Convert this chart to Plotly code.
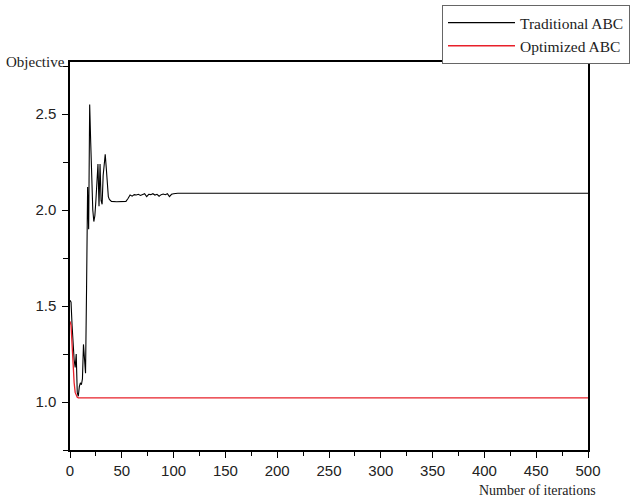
import plotly.graph_objects as go

# Traditional ABC (black) - iteration / objective value
trad_iter = [0, 1, 2, 3, 4, 5, 6, 7, 8, 9, 10, 11, 12, 13, 14, 15, 16, 17, 18, 19,
             20, 21, 22, 23, 24, 25, 26, 27, 28, 29, 30, 31, 32, 33, 34, 35, 36, 37, 38,
             40, 45, 50, 54, 56, 58, 60, 62, 64, 66, 68, 70, 72, 74, 76, 78, 80, 82, 84,
             86, 88, 90, 92, 94, 96, 98, 100, 104, 200, 300, 400, 500]
trad_vals = [1.53, 1.52, 1.40, 1.30, 1.22, 1.18, 1.25, 1.05, 1.03, 1.08, 1.10, 1.09, 1.12,
             1.30, 1.20, 1.15, 1.60, 2.12, 1.90, 2.55, 2.35, 2.15, 2.00, 1.94, 1.97, 2.05,
             2.15, 2.24, 2.02, 2.24, 2.05, 2.03, 2.18, 2.26, 2.29, 2.22, 2.12, 2.07, 2.055,
             2.045, 2.043, 2.045, 2.045, 2.06, 2.078, 2.072, 2.08, 2.078, 2.082, 2.076,
             2.08, 2.085, 2.07, 2.082, 2.08, 2.085, 2.078, 2.082, 2.072, 2.08, 2.083,
             2.08, 2.085, 2.07, 2.082, 2.085, 2.087, 2.087, 2.087, 2.087, 2.087]

# Optimized ABC (red)
opt_iter = [0, 1, 2, 3, 4, 5, 6, 7, 8, 100, 200, 300, 400, 500]
opt_vals = [1.42, 1.40, 1.30, 1.18, 1.10, 1.05, 1.03, 1.025, 1.022, 1.022, 1.022, 1.022, 1.022, 1.022]

x_ticks = [0, 50, 100, 150, 200, 250, 300, 350, 400, 450, 500]
y_ticks = [1.0, 1.5, 2.0, 2.5]
y_labels = ["1.0", "1.5", "2.0", "2.5"]

serif = "Liberation Serif, Times New Roman, serif"
sans = "Liberation Sans, Arial, sans-serif"

fig = go.Figure()
fig.add_trace(go.Scatter(x=trad_iter, y=trad_vals, mode="lines", name="Traditional ABC",
                         line=dict(color="black", width=1.1)))
fig.add_trace(go.Scatter(x=opt_iter, y=opt_vals, mode="lines", name="Optimized ABC",
                         line=dict(color="#e8202a", width=1.3)))

fig.update_layout(
    width=643, height=499,
    margin=dict(l=70, r=55, t=62, b=49, autoexpand=False),
    paper_bgcolor="white", plot_bgcolor="white",
    showlegend=True,
    legend=dict(x=(442 - 70) / 518, y=(450 - 5) / 388,
                xanchor="left", yanchor="top",
                bordercolor="#666666", borderwidth=1, bgcolor="white",
                font=dict(family=serif, size=15.5, color="#222222"),
                itemwidth=67, tracegroupgap=0),
    xaxis=dict(range=[0, 500], tickvals=x_ticks, ticks="outside", ticklen=6, tickwidth=1.2,
               tickcolor="black", showline=True, linecolor="black", linewidth=1.5,
               mirror=True, showgrid=False, zeroline=False,
               tickfont=dict(family=sans, size=15, color="#222222"),
               minor=dict(dtick=25, ticks="outside", ticklen=4, tickcolor="black", showgrid=False)),
    yaxis=dict(range=[0.75, 2.771], tickvals=y_ticks, ticktext=y_labels, ticks="outside",
               ticklen=6, tickwidth=1.2, tickcolor="black", showline=True, linecolor="black",
               linewidth=1.5, mirror=True, showgrid=False, zeroline=False,
               ticklabelstandoff=3,
               tickfont=dict(family=sans, size=15, color="#222222"),
               minor=dict(dtick=0.25, ticks="outside", ticklen=5, tickcolor="black", showgrid=False)),
    annotations=[
        dict(text="Objective", xref="paper", yref="paper", x=-0.006, y=1.0,
             xanchor="right", yanchor="middle", showarrow=False,
             font=dict(family=serif, size=15, color="#222222")),
        dict(text="Number of iterations", xref="paper", yref="paper", x=1.02, y=-0.105,
             xanchor="right", yanchor="middle", showarrow=False,
             font=dict(family=serif, size=14, color="#222222")),
    ],
)

fig.write_html("out.html", config={"displayModeBar": False},
               post_script="document.body.style.margin='0';")
